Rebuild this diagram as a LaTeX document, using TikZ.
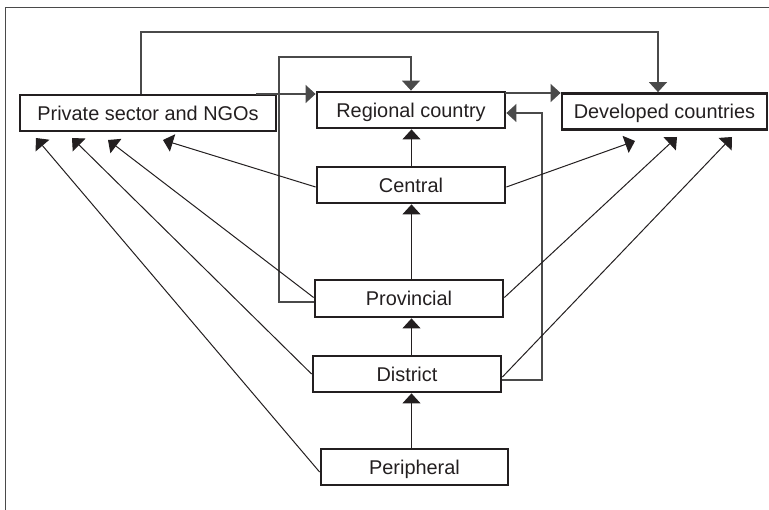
\documentclass[tikz,border=0pt]{standalone}
\usepackage{fontspec}
\setmainfont{Liberation Sans}
\usetikzlibrary{arrows.meta,calc}
\definecolor{ink}{HTML}{231F20}
\definecolor{wire}{HTML}{4A4A4A}
\tikzset{
  box/.style={draw=ink, line width=2.8pt, rectangle, inner sep=0pt,
    text height=14.3pt, text depth=0pt, minimum height=36pt,
    font=\fontsize{19.9}{24}\selectfont, text=ink},
  arr/.style={-{Triangle[length=10pt,width=18pt]}, draw=ink, line width=1pt},
  ortho/.style={arr, draw=wire, line width=1.3pt},
  frame/.style={draw=wire, line width=1.6pt}
}
\begin{document}
\begin{tikzpicture}[x=1pt,y=-1pt]
\useasboundingbox (0,0) rectangle (769,510);
\draw[frame] (5.5,520) -- (5.5,7.5) -- (780,7.5);

\node[box, minimum width=256pt] (priv) at (148,113) {Private sector and NGOs};
\node[box, minimum width=188pt] (reg) at (411,110) {Regional country};
\node[box, minimum width=205pt] (dev) at (664.5,111.5) {Developed countries};
\node[box, minimum width=188pt] (cen) at (411,185) {Central};
\node[box, minimum width=188pt, minimum height=37pt] (prov) at (409,298.5) {Provincial};
\node[box, minimum width=188pt] (dist) at (407,374) {District};
\node[box, minimum width=187pt] (peri) at (414.5,467) {Peripheral};

% orthogonal connectors
\coordinate (c1) at (141,32);
\coordinate (c2) at (658,32);
\draw[ortho] (priv.north -| c1) -- (c1) -- (c2) -- (dev.north -| c2);

\coordinate (c3) at (279,57);
\draw[ortho] ([yshift=-3.5pt]prov.west) -| (c3) -| (reg.north);

\coordinate (s3) at (256,94);
\draw[ortho] (s3) -- (s3 -| reg.west);

\coordinate (s4) at (505,93);
\draw[ortho] (s4) -- (s4 -| dev.west);

\coordinate (c5) at (542,113);
\draw[ortho] ([yshift=-6pt]dist.east) -| (c5) -- (c5 -| reg.east);

% vertical chain
\coordinate (col) at (411.5,0);
\draw[arr] (cen.north -| col) -- (reg.south -| col);
\draw[arr] (prov.north -| col) -- (cen.south -| col);
\draw[arr] (dist.north -| col) -- (prov.south -| col);
\draw[arr] (peri.north -| col) -- (dist.south -| col);

% diagonals to private sector
\coordinate (pa) at (163,140);
\coordinate (pb) at (108,140);
\coordinate (pc) at (72,138);
\coordinate (pd) at (36,138);
\draw[arr] ([yshift=-2pt]cen.west) -- (pa);
\draw[arr] ([yshift=1pt]prov.west) -- (pb);
\draw[arr] (dist.west) -- (pc);
\draw[arr] ([yshift=-5pt]peri.west) -- (pd);

% diagonals to developed countries
\coordinate (da) at (635,141);
\coordinate (db) at (677,137);
\coordinate (dc) at (732,137);
\draw[arr] ([yshift=-2pt]cen.east) -- (da);
\draw[arr] ([yshift=1pt]prov.east) -- (db);
\draw[arr] ([yshift=-3pt]dist.east) -- (dc);
\end{tikzpicture}
\end{document}
